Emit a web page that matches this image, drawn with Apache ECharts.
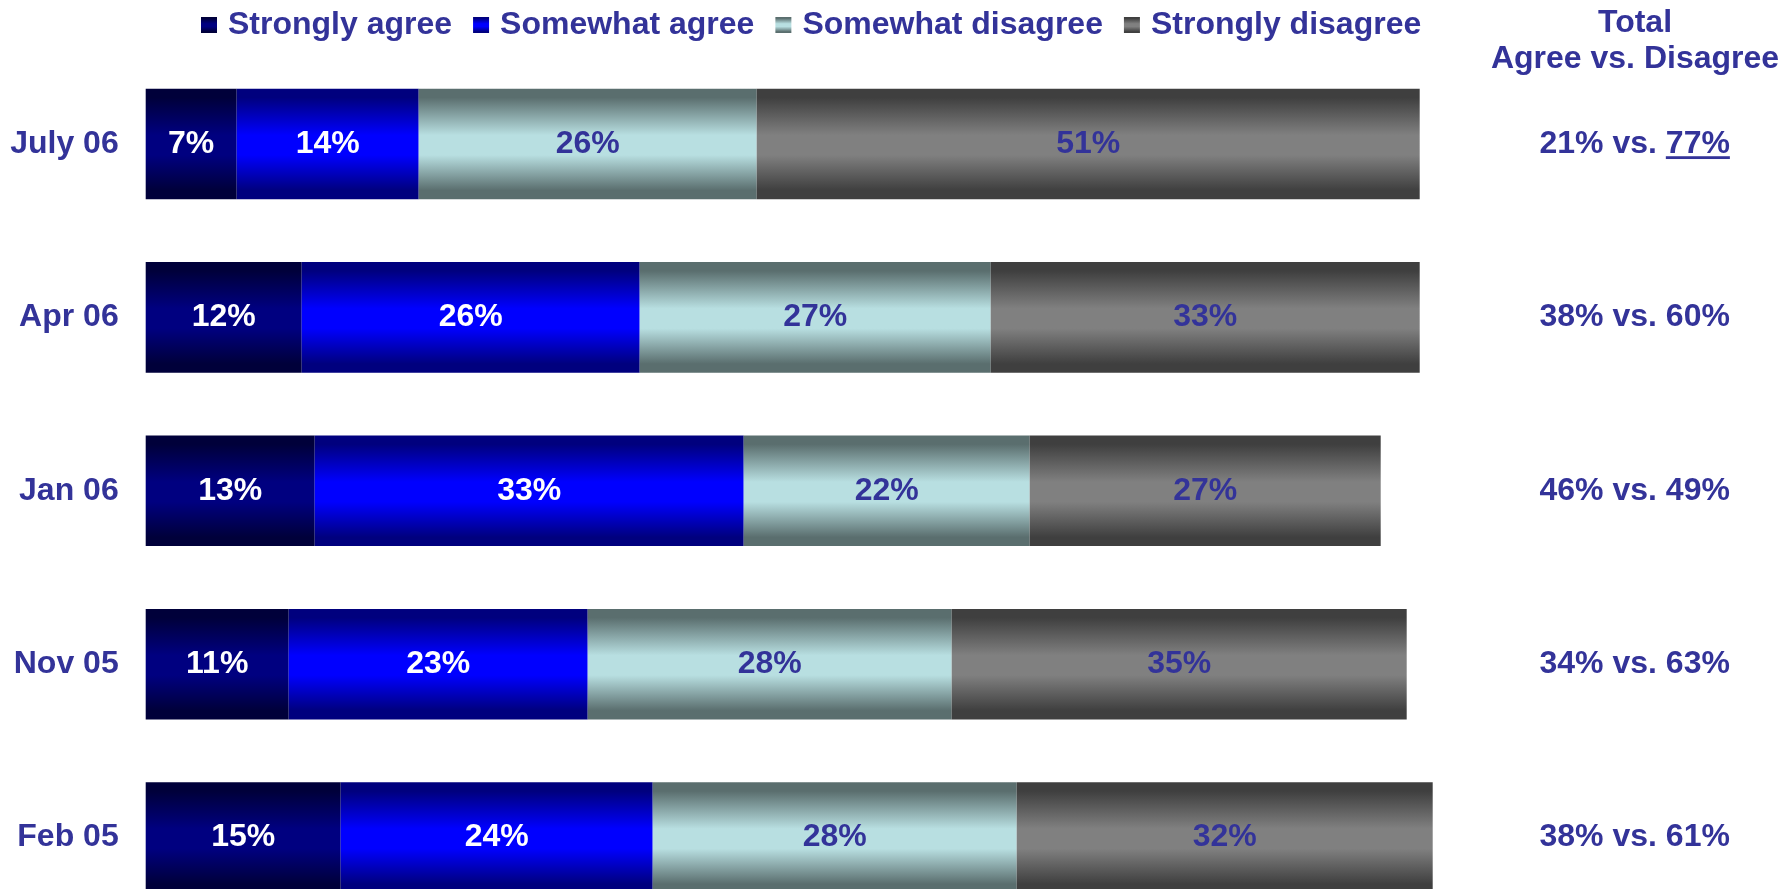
<!DOCTYPE html>
<html>
<head>
<meta charset="utf-8">
<script src="https://cdn.jsdelivr.net/npm/echarts@6/dist/echarts.min.js"></script>
<style>
html,body{margin:0;padding:0;background:#fff;}
#chart{width:1785px;height:889px;}
</style>
</head>
<body>
<div id="chart"></div>
<script>
// ---- data ----
const categories = ['July 06', 'Apr 06', 'Jan 06', 'Nov 05', 'Feb 05'];
const seriesNames = ['Strongly agree', 'Somewhat agree', 'Somewhat disagree', 'Strongly disagree'];
const stronglyAgree    = [7, 12, 13, 11, 15];
const somewhatAgree    = [14, 26, 33, 23, 24];
const somewhatDisagree = [26, 27, 22, 28, 28];
const stronglyDisagree = [51, 33, 27, 35, 32];
const totalAgree       = [21, 38, 46, 34, 38];
const totalDisagree    = [77, 60, 49, 63, 61];
const underlineDisagree = [true, false, false, false, false];

// ---- styles ----
const TXT = '#333399';
const FONT = '"Liberation Sans", Arial, Helvetica, sans-serif';
function grad(edge, mid) {
  return new echarts.graphic.LinearGradient(0, 0, 0, 1, [
    {offset: 0, color: edge},
    {offset: 0.08, color: edge},
    {offset: 0.42, color: mid},
    {offset: 0.6, color: mid},
    {offset: 0.92, color: edge},
    {offset: 1, color: edge}
  ]);
}
const colors = [
  grad('#00003A', '#000080'),
  grad('#00007E', '#0000FF'),
  grad('#5A6E6E', '#B8DFE1'),
  grad('#3F3F3F', '#808080')
];
const labelColors = ['#ffffff', '#ffffff', TXT, TXT];
const values = [stronglyAgree, somewhatAgree, somewhatDisagree, stronglyDisagree];

// underline image for rich text
const ul = document.createElement('canvas');
ul.width = 4; ul.height = 34;
const uctx = ul.getContext('2d');
uctx.fillStyle = TXT;
uctx.fillRect(0, 30, 4, 3);

const chart = echarts.init(document.getElementById('chart'), null, {renderer: 'canvas'});

const series = seriesNames.map((name, i) => ({
  name: name,
  type: 'bar',
  stack: 'total',
  barWidth: '63.8%',
  data: values[i],
  itemStyle: {color: colors[i]},
  label: {
    show: true,
    position: 'inside',
    formatter: '{c}%',
    color: labelColors[i],
    fontSize: 32,
    fontWeight: 'bold',
    fontFamily: FONT
  },
  emphasis: {disabled: true}
}));

chart.setOption({
  animation: false,
  backgroundColor: '#ffffff',
  textStyle: {fontFamily: FONT},
  legend: {
    left: 196,
    top: 4,
    icon: 'rect',
    itemWidth: 16,
    itemHeight: 16,
    itemGap: 21,
    selectedMode: false,
    data: seriesNames,
    textStyle: {color: TXT, fontSize: 32, fontWeight: 'bold', fontFamily: FONT, padding: [0, 0, 0, 6]}
  },
  graphic: [{
    type: 'text',
    x: 1635,
    y: 5,
    style: {
      text: 'Total\nAgree vs. Disagree',
      align: 'center',
      verticalAlign: 'top',
      fill: TXT,
      font: 'bold 32px ' + FONT,
      lineHeight: 36
    }
  }],
  grid: {left: 145.7, top: 57.3, width: 1300, height: 867, containLabel: false, outerBoundsMode: 'none'},
  xAxis: {type: 'value', min: 0, max: 100, show: false},
  yAxis: [{
    type: 'category',
    inverse: true,
    data: categories,
    axisLine: {show: false},
    axisTick: {show: false},
    splitLine: {show: false},
    axisLabel: {margin: 27, color: TXT, fontSize: 32, fontWeight: 'bold', fontFamily: FONT}
  }, {
    type: 'category',
    inverse: true,
    position: 'right',
    data: categories,
    axisLine: {show: false},
    axisTick: {show: false},
    splitLine: {show: false},
    axisLabel: {
      margin: 189,
      align: 'center',
      color: TXT, fontSize: 32, fontWeight: 'bold', fontFamily: FONT,
      formatter: function (v, idx) {
        const d = totalDisagree[idx] + '%';
        return '{n|' + totalAgree[idx] + '% vs. }' + (underlineDisagree[idx] ? '{u|' + d + '}' : '{n|' + d + '}');
      },
      rich: {
        n: {color: TXT, fontSize: 32, fontWeight: 'bold', fontFamily: FONT, lineHeight: 34},
        u: {color: TXT, fontSize: 32, fontWeight: 'bold', fontFamily: FONT, lineHeight: 34, backgroundColor: {image: ul}}
      }
    }
  }],
  series: series
});
</script>
</body>
</html>
